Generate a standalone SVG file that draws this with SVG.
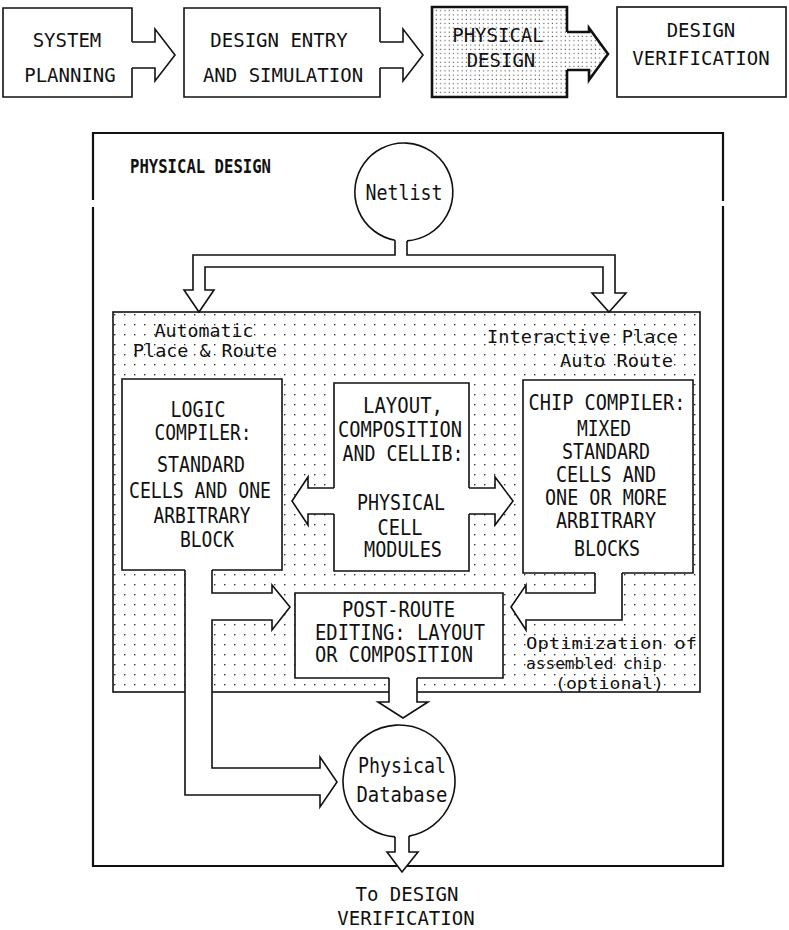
<svg xmlns="http://www.w3.org/2000/svg" width="789" height="930" viewBox="0 0 789 930">
<defs>
<pattern id="dots" x="0" y="0" width="10" height="10" patternUnits="userSpaceOnUse"><rect x="4" y="4" width="1.4" height="1.4" fill="#333"/></pattern>
<pattern id="dense" x="0" y="0" width="4.3" height="4.3" patternUnits="userSpaceOnUse"><rect x="1.5" y="1.5" width="1.1" height="1.1" fill="#444"/></pattern>
</defs>
<style>
.ln{fill:none;stroke:#111;stroke-width:1.6;stroke-linejoin:miter}
.thk{fill:none;stroke:#111;stroke-width:2.6}
.wf{fill:#fff;stroke:#111;stroke-width:1.6;stroke-linejoin:miter}
.bg{fill:#fff;stroke:none}
text{font-family:"DejaVu Sans Mono","Liberation Mono",monospace;fill:#111}
.t1{font-size:19px;text-anchor:middle}
.t2{font-size:21px;text-anchor:middle}
.t3{font-size:21px}
.an{font-size:18px}
.ans{font-size:16.5px}
.anm{font-size:18px;text-anchor:middle}
.lbl{font-size:20px;font-weight:bold}
</style>
<rect width="789" height="930" fill="#fff"/>

<!-- top row -->
<g id="system-planning">
<rect class="bg" x="3" y="8" width="129" height="89"/>
<path class="ln" d="M132,42 V8 H3 V97 H132 V68"/>
<text class="t1" x="67" y="47">SYSTEM</text>
<text class="t1" x="70" y="82">PLANNING</text>
</g>
<g id="design-entry">
<rect class="bg" x="184" y="8" width="196" height="89"/>
<path class="ln" d="M380,42 V8 H184 V97 H380 V68"/>
<text class="t1" x="279" y="47">DESIGN ENTRY</text>
<text class="t1" x="283" y="82">AND SIMULATION</text>
</g>
<g id="physical-design-step">
<rect x="432" y="7" width="135" height="90" fill="url(#dense)"/>
<path class="thk" d="M567,32 V7 H432 V97 H567 V70"/>
<text class="t1" x="498" y="42">PHYSICAL</text>
<text class="t1" x="501" y="67">DESIGN</text>
</g>
<g id="design-verification">
<rect class="ln" x="617" y="7" width="169" height="90"/>
<text class="t1" x="701" y="37">DESIGN</text>
<text class="t1" x="701" y="65">VERIFICATION</text>
</g>
<g id="top-connectors">
<path class="wf" d="M132,42 H155 V29 L175,55 L155,81 V68 H132"/>
<path class="wf" d="M380,42 H403 V29 L423,55 L403,81 V68 H380"/>
<path d="M567,32 H589 V28 L608,54 L589,80 V70 H567" fill="url(#dense)" stroke="#111" stroke-width="2.6"/>
</g>

<!-- frame -->
<g id="frame">
<path d="M93,200 V133 H723 V201 M723,206 V866 H93 V207" fill="none" stroke="#111" stroke-width="2.2"/>
<text class="lbl" x="130" y="173" textLength="141" lengthAdjust="spacingAndGlyphs">PHYSICAL DESIGN</text>
</g>

<!-- dotted region -->
<g id="place-route-area">
<rect x="113" y="312" width="587" height="380" fill="url(#dots)" stroke="#111" stroke-width="1.6"/>
<text class="anm" x="204" y="337" textLength="99" lengthAdjust="spacingAndGlyphs">Automatic</text>
<text class="anm" x="205" y="357" textLength="144" lengthAdjust="spacingAndGlyphs">Place &amp; Route</text>
<text class="an" x="487" y="343" textLength="191" lengthAdjust="spacingAndGlyphs">Interactive Place</text>
<text class="an" x="560" y="367" textLength="113" lengthAdjust="spacingAndGlyphs">Auto Route</text>
<text class="ans" x="526" y="649" textLength="171" lengthAdjust="spacingAndGlyphs">Optimization of</text>
<text class="ans" x="526" y="669" textLength="136" lengthAdjust="spacingAndGlyphs">assembled chip</text>
<text class="ans" x="555" y="689" textLength="109" lengthAdjust="spacingAndGlyphs">(optional)</text>
</g>

<g id="netlist">
<path class="wf" d="M395,240.2 A49,49 0 1 1 407,240.9"/>
<text class="t2" x="404" y="200" textLength="77" lengthAdjust="spacingAndGlyphs">Netlist</text>
</g>

<g id="logic-compiler">
<rect class="bg" x="122" y="379" width="160" height="191"/>
<path class="ln" d="M185,570 H122 V379 H282 V570 H212"/>
<text class="t2" x="198" y="417" textLength="55" lengthAdjust="spacingAndGlyphs">LOGIC</text>
<text class="t2" x="203" y="440" textLength="97" lengthAdjust="spacingAndGlyphs">COMPILER:</text>
<text class="t2" x="201" y="472" textLength="88" lengthAdjust="spacingAndGlyphs">STANDARD</text>
<text class="t2" x="200" y="498" textLength="142" lengthAdjust="spacingAndGlyphs">CELLS AND ONE</text>
<text class="t2" x="202" y="523" textLength="97" lengthAdjust="spacingAndGlyphs">ARBITRARY</text>
<text class="t2" x="207" y="547" textLength="54" lengthAdjust="spacingAndGlyphs">BLOCK</text>
</g>

<g id="layout-cellib">
<rect class="bg" x="334" y="383" width="135" height="188"/>
<path class="ln" d="M334,488 V383 H469 V488 M469,514 V571 H334 V514"/>
<text class="t2" x="403" y="413" textLength="80" lengthAdjust="spacingAndGlyphs">LAYOUT,</text>
<text class="t2" x="400" y="437" textLength="124" lengthAdjust="spacingAndGlyphs">COMPOSITION</text>
<text class="t2" x="403" y="461" textLength="121" lengthAdjust="spacingAndGlyphs">AND CELLIB:</text>
<text class="t2" x="401" y="510" textLength="88" lengthAdjust="spacingAndGlyphs">PHYSICAL</text>
<text class="t2" x="400" y="535" textLength="45" lengthAdjust="spacingAndGlyphs">CELL</text>
<text class="t2" x="403" y="557" textLength="78" lengthAdjust="spacingAndGlyphs">MODULES</text>
</g>

<g id="chip-compiler">
<rect class="bg" x="523" y="380" width="170" height="193"/>
<path class="ln" d="M595,573 H523 V380 H693 V573 H622"/>
<text class="t2" x="607" y="410" textLength="157" lengthAdjust="spacingAndGlyphs">CHIP COMPILER:</text>
<text class="t2" x="604" y="436" textLength="54" lengthAdjust="spacingAndGlyphs">MIXED</text>
<text class="t2" x="606" y="459" textLength="88" lengthAdjust="spacingAndGlyphs">STANDARD</text>
<text class="t2" x="606" y="482" textLength="100" lengthAdjust="spacingAndGlyphs">CELLS AND</text>
<text class="t2" x="606" y="505" textLength="122" lengthAdjust="spacingAndGlyphs">ONE OR MORE</text>
<text class="t2" x="606" y="528" textLength="100" lengthAdjust="spacingAndGlyphs">ARBITRARY</text>
<text class="t2" x="607" y="556" textLength="66" lengthAdjust="spacingAndGlyphs">BLOCKS</text>
</g>

<g id="post-route">
<rect class="bg" x="295" y="593" width="208" height="85"/>
<path class="ln" d="M389,678 H295 V593 H503 V678 H417"/>
<text class="t3" x="342" y="617" textLength="113" lengthAdjust="spacingAndGlyphs">POST-ROUTE</text>
<text class="t3" x="315" y="640" textLength="170" lengthAdjust="spacingAndGlyphs">EDITING: LAYOUT</text>
<text class="t3" x="315" y="662" textLength="158" lengthAdjust="spacingAndGlyphs">OR COMPOSITION</text>
</g>

<g id="physical-database">
<path class="wf" d="M395,836.86 A56,56 0 1 1 409,836.1"/>
<text class="t2" x="402" y="773" textLength="88" lengthAdjust="spacingAndGlyphs">Physical</text>
<text class="t2" x="402" y="802" textLength="91" lengthAdjust="spacingAndGlyphs">Database</text>
</g>

<g id="connectors">
<path class="wf" d="M395,240.2 V255 H193 V290 H184 L199,312 L214,290 H205 V267 H603 V293 H592 L609,312 L626,293 H615 V255 H407 V240.9"/>
<path class="wf" d="M334,488 H308 V477 L292,501 L308,525 V514 H334"/>
<path class="wf" d="M469,488 H495 V477 L513,501 L495,525 V514 H469"/>
<path class="wf" d="M212,570 V593 H272 V585 L290,607 L272,630 V620 H212 V768 H320 V757 L337,782 L320,807 V795 H185 V570"/>
<path class="wf" d="M595,573 V593 H526 V585 L511,607 L526,630 V620 H622 V573"/>
<path class="wf" d="M389,678 V702 H378 L403,718 L428,702 H417 V678"/>
<path class="wf" d="M395,836.86 V852 H387 L402,872 L418,852 H409 V836.1"/>
</g>

<g id="output-label">
<text class="t1" x="407" y="901">To DESIGN</text>
<text class="t1" x="406" y="925">VERIFICATION</text>
</g>
</svg>
